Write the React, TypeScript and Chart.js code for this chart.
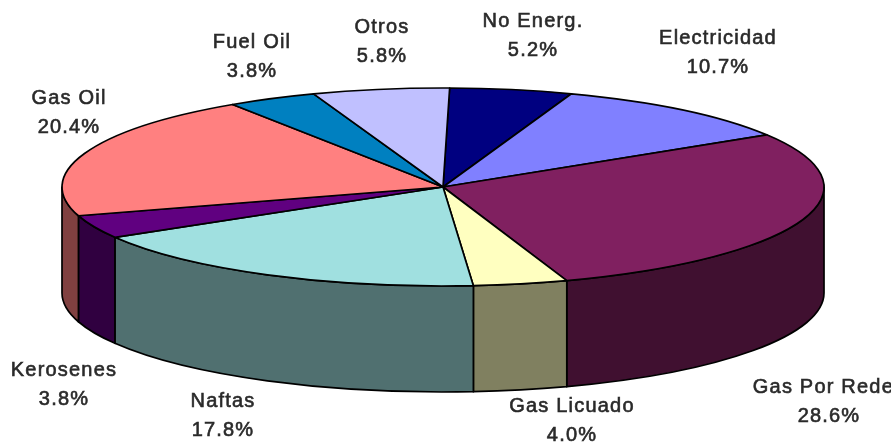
import React, { useEffect, useRef } from "react";
import { Chart, registerables } from "chart.js";

Chart.register(...registerables);

const categories = ["No Energ.", "Electricidad", "Gas Por Redes", "Gas Licuado", "Naftas", "Kerosenes", "Gas Oil", "Fuel Oil", "Otros"];
const shares = [5.2, 10.7, 28.6, 4.0, 17.8, 3.8, 20.4, 3.8, 5.8];
const topColors = ["#000080", "#8080FF", "#802060", "#FFFFC0", "#A0E0E0", "#600080", "#FF8080", "#0080C0", "#C0C0FF"];
const wallColors = ["#000040", "#404080", "#401030", "#808060", "#507070", "#300040", "#804040", "#004060", "#606080"];
// label centres: [x, mid-y of the first line]
const labelAnchors = [[533, 21], [718, 38], [829, 387], [572, 406], [223, 401], [64, 370], [69, 98], [252, 42], [382, 27]];

const CX = 443, CY = 187, RX = 381, RY = 99, DEPTH = 106;
const LINE_GAP = 29;

const piePlugin = {
  id: "extrudedPie",
  beforeDatasetsDraw(chart: any) {
    const ctx: CanvasRenderingContext2D = chart.ctx;
    const arcs = chart.getDatasetMeta(0).data;
    ctx.save();
    ctx.lineWidth = 1.7;
    ctx.strokeStyle = "#000";
    ctx.lineJoin = "round";

    // Side wall: the part of each arc's rim that faces the viewer.
    arcs.forEach((arc: any, i: number) => {
      const { startAngle, endAngle } = arc.getProps(["startAngle", "endAngle"], true);
      for (const shift of [0, Math.PI * 2, -Math.PI * 2]) {
        const a = Math.max(startAngle + shift, 0);
        const b = Math.min(endAngle + shift, Math.PI);
        if (b <= a) continue;
        ctx.beginPath();
        ctx.ellipse(CX, CY, RX, RY, 0, a, b);
        ctx.ellipse(CX, CY + DEPTH, RX, RY, 0, b, a, true);
        ctx.closePath();
        ctx.fillStyle = wallColors[i];
        ctx.fill();
        ctx.stroke();
      }
    });

    // Top face.
    arcs.forEach((arc: any, i: number) => {
      const { startAngle, endAngle } = arc.getProps(["startAngle", "endAngle"], true);
      ctx.beginPath();
      ctx.moveTo(CX, CY);
      ctx.ellipse(CX, CY, RX, RY, 0, startAngle, endAngle);
      ctx.closePath();
      ctx.fillStyle = topColors[i];
      ctx.fill();
      ctx.stroke();
    });
    ctx.restore();

    // Labels.
    ctx.save();
    ctx.fillStyle = "#2a2a2a";
    ctx.strokeStyle = "#2a2a2a";
    ctx.lineWidth = 0.6;
    ctx.font = "20px 'Liberation Sans', Arial, sans-serif";
    (ctx as any).letterSpacing = "1.2px";
    ctx.textAlign = "center";
    ctx.textBaseline = "middle";
    (ctx as any).filter = "blur(0.5px)";
    categories.forEach((name, i) => {
      const [x, y] = labelAnchors[i];
      const pct = shares[i].toFixed(1) + "%";
      ctx.fillText(name, x, y);
      ctx.strokeText(name, x, y);
      ctx.fillText(pct, x, y + LINE_GAP);
      ctx.strokeText(pct, x, y + LINE_GAP);
    });
    ctx.restore();
    return false;
  },
};

export default function App() {
  const ref = useRef<HTMLCanvasElement>(null);
  useEffect(() => {
    document.body.style.margin = "0";
    document.body.style.background = "#fff";
    const chart = new Chart(ref.current!, {
      type: "pie",
      data: {
        labels: categories,
        datasets: [{ data: shares, backgroundColor: topColors }],
      },
      options: {
        responsive: false,
        animation: false,
        rotation: 1,
        plugins: { legend: { display: false }, tooltip: { enabled: false } },
      },
      plugins: [piePlugin],
    } as any);
    return () => chart.destroy();
  }, []);
  return <canvas ref={ref} width={891} height={445} style={{ display: "block" }} />;
}
